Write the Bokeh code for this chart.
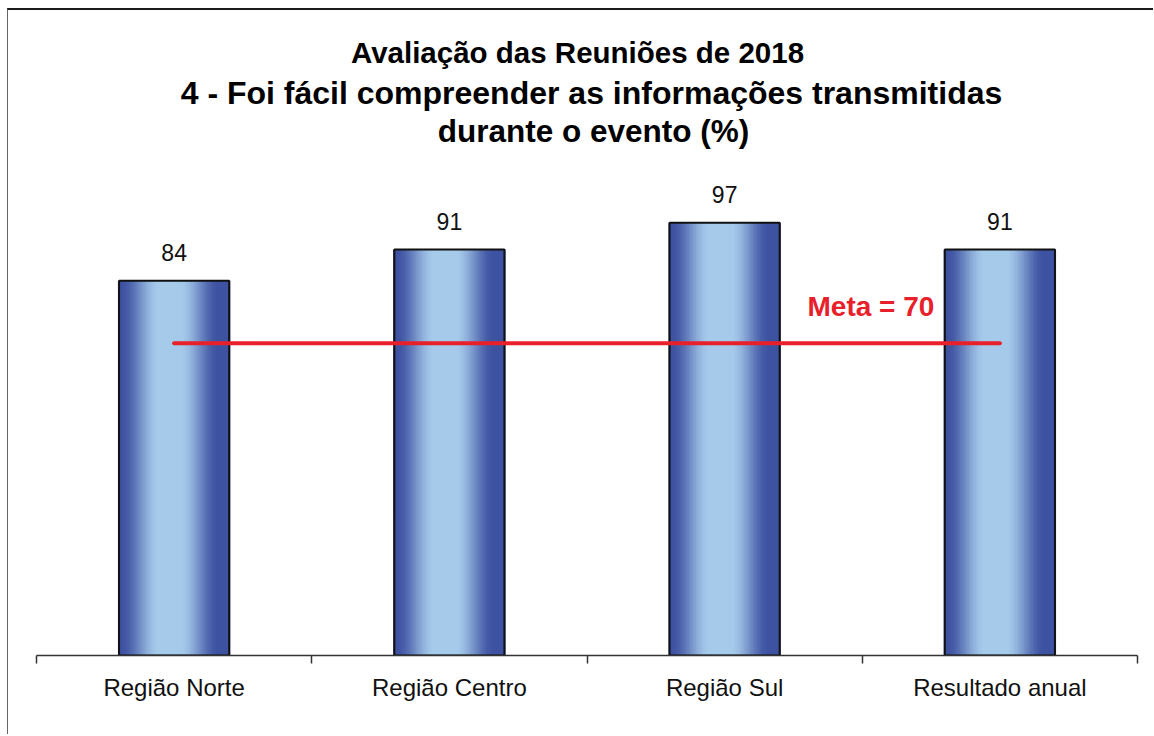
import numpy as np
from bokeh.plotting import figure
from bokeh.models import ColumnDataSource, FixedTicker, LinearAxis, Range1d
from bokeh.core.properties import value
from bokeh.embed import file_html
from bokeh.resources import INLINE

# ---- data ----
categories = ["Região Norte", "Região Centro", "Região Sul", "Resultado anual"]
values = [84, 91, 97, 91]
meta = 70
title_lines = [
    "Avaliação das Reuniões de 2018",
    "4 - Foi fácil compreender as informações transmitidas",
    "durante o evento (%)",
]

FONT = "Liberation Sans"
BAR_W = 0.4
N_STRIPS = 48
DARK = np.array([62, 82, 162])
LIGHT = np.array([165, 202, 234])

p = figure(width=1146, height=726, output_backend="svg", toolbar_location=None,
           x_range=Range1d(0, len(categories)), y_range=Range1d(0, 144.6),
           x_axis_type=None, y_axis_type=None,
           min_border_left=28, min_border_right=17, min_border_top=0,
           min_border_bottom=81)
p.outline_line_color = None
p.grid.visible = False
p.background_fill_color = "white"
p.border_fill_color = "white"
p.styles = {"border-top": "2px solid #1a1a1a", "border-left": "1px solid #666",
            "margin-left": "7px", "margin-top": "8px"}

centers = [i + 0.5 for i in range(len(categories))]

# gradient bars built from strips
xs, tops, colors = [], [], []
sw = BAR_W / N_STRIPS
for c, v in zip(centers, values):
    for k in range(N_STRIPS):
        t = (k + 0.5) / N_STRIPS
        d = min(abs(t - 0.47) / 0.47, 1.0)
        f = 1 - d
        f = min(1.0, max(0.0, (f - 0.05) / 0.75))
        f = f * f * (3 - 2 * f)
        col = DARK + (LIGHT - DARK) * f
        colors.append("#%02x%02x%02x" % tuple(int(round(x)) for x in col))
        xs.append(c - BAR_W / 2 + (k + 0.5) * sw)
        tops.append(v)
p.vbar(x=xs, top=tops, bottom=0, width=sw * 2.0, fill_color=colors, line_color=None)

src = ColumnDataSource(dict(x=centers, top=values, label=[str(v) for v in values]))
p.vbar(x="x", top="top", bottom=0, width=BAR_W, source=src, fill_color=None,
       line_color="#111111", line_width=2)

# value labels
p.text(x="x", y="top", text="label", source=src, text_align="center",
       text_baseline="alphabetic", y_offset=-28, text_font=value(FONT),
       text_font_size="23px", text_color="#111111")

# meta line
p.line(x=[centers[0], centers[-1]], y=[meta, meta], line_color="#e8202a",
       line_width=4, line_cap="round")
p.text(x=[3.262], y=[meta], text=[f"Meta = {meta}"], text_align="right",
       text_baseline="alphabetic", y_offset=-37, text_font=value(FONT),
       text_font_size="28px", text_font_style="bold", text_color="#e8202a")

# titles
title_x = [1.9655, 2.0163, 2.0236]
title_y = [135.1, 126.0, 117.6]
title_sizes = ["29.5px", "32px", "31.5px"]
for tx, ty, tl, ts in zip(title_x, title_y, title_lines, title_sizes):
    p.text(x=[tx], y=[ty], text=[tl], text_align="center",
           text_baseline="alphabetic", text_font=value(FONT), text_font_size=ts,
           text_font_style="bold", text_color="#000000")

# x axis with ticks at category boundaries
ax = LinearAxis(ticker=FixedTicker(ticks=centers, minor_ticks=list(range(len(categories) + 1))))
ax.major_label_overrides = {c: lab for c, lab in zip(centers, categories)}
ax.major_tick_out = 0
ax.major_tick_in = 0
ax.minor_tick_out = 8
ax.minor_tick_in = 0
ax.axis_line_color = "#333333"
ax.axis_line_width = 1.5
ax.minor_tick_line_color = "#333333"
ax.minor_tick_line_width = 1.5
ax.major_label_standoff = 10
ax.major_label_text_font = FONT
ax.major_label_text_font_size = "24px"
ax.major_label_text_color = "#111111"
p.add_layout(ax, "below")

open("out.html", "w").write(file_html(p, INLINE))
